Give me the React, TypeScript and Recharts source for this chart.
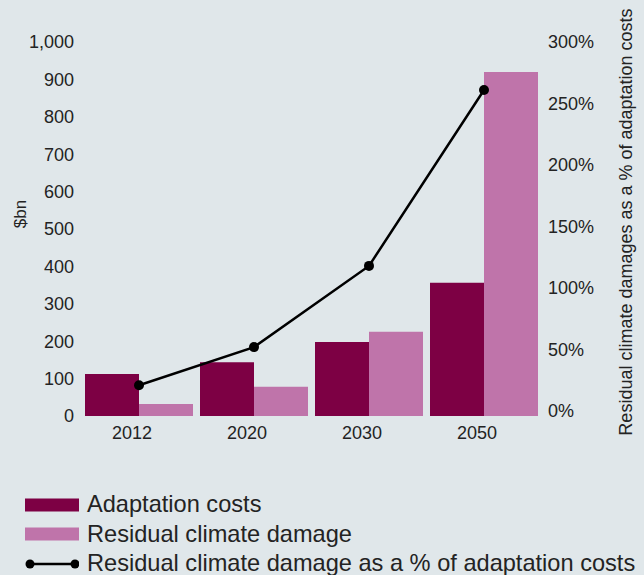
import React from "react";
import { Bar, ComposedChart, Legend, Line, XAxis, YAxis } from "recharts";

const years = ["2012", "2020", "2030", "2050"];
const adaptationCosts = [112, 144, 198, 356];
const residualDamage = [32, 78, 225, 920];
const residualPct = [21, 52, 118, 261];
const dollarTicks = [0, 100, 200, 300, 400, 500, 600, 700, 800, 900, 1000];
const pctTicks = [0, 50, 100, 150, 200, 250, 300];

const data = years.map((year, i) => ({
  year,
  adaptation: adaptationCosts[i],
  residual: residualDamage[i],
  pct: residualPct[i]
}));

const FONT = '"Liberation Sans", Arial, Helvetica, sans-serif';
const TEXT = "#232323";
const DARK = "#7d0044";
const LIGHT = "#bf74aa";

const tickStyle = { fontSize: 18, fill: TEXT, fontFamily: FONT };

function LegendRows({ payload }: any) {
  const items = payload || [];
  return (
    <div style={{ fontFamily: FONT, fontSize: 23.6, color: TEXT, height: 88, boxSizing: "border-box", paddingTop: 3 }}>
      {items.map((item: any) => (
        <div key={item.value} style={{ display: "flex", alignItems: "center", height: 29.5, lineHeight: "29.5px" }}>
          <svg width={54} height={14} style={{ marginRight: 8, flex: "none" }}>
            {item.type === "line" ? (
              <g>
                <line x1={5} y1={7} x2={50} y2={7} stroke="#000" strokeWidth={2.5} />
                <circle cx={5} cy={7} r={4.5} fill="#000" />
                <circle cx={50} cy={7} r={4.5} fill="#000" />
              </g>
            ) : (
              <rect x={0} y={0.5} width={54} height={13} fill={item.color} />
            )}
          </svg>
          <span style={{ whiteSpace: "nowrap" }}>{item.value}</span>
        </div>
      ))}
    </div>
  );
}

export default function App() {
  return (
    <div style={{ position: "absolute", left: 0, top: 0, width: 644, height: 575, background: "#e0e7ea" }}>
      <ComposedChart
        width={644}
        height={575}
        data={data}
        margin={{ top: 42, right: 0, bottom: 0, left: 0 }}
        barCategoryGap={3.5}
        barGap={0}
      >
        <XAxis
          dataKey="year"
          height={71}
          axisLine={false}
          tickLine={false}
          tickSize={0}
          tickMargin={10}
          tick={{ ...tickStyle, dx: -7 }}
        />
        <YAxis
          yAxisId="bn"
          width={81.5}
          domain={[0, 1000]}
          ticks={dollarTicks}
          axisLine={false}
          tickLine={false}
          tickSize={0}
          tickMargin={7.5}
          tick={tickStyle}
          tickFormatter={(v: number) => v.toLocaleString("en-US")}
          label={{
            content: (props: any) => {
              const vb = props.viewBox;
              const cx = vb.x + 20;
              const cy = vb.y + vb.height / 2 - 15;
              return (
                <text x={cx} y={cy} transform={`rotate(-90 ${cx} ${cy})`} textAnchor="middle" dominantBaseline="central" fontSize={17} fill={TEXT} fontFamily={FONT}>
                  $bn
                </text>
              );
            }
          }}
        />
        <YAxis
          yAxisId="pct"
          orientation="right"
          width={102.5}
          domain={[-4, 300]}
          ticks={pctTicks}
          axisLine={false}
          tickLine={false}
          tickSize={0}
          tickMargin={6.5}
          tick={tickStyle}
          tickFormatter={(v: number) => `${v}%`}
          label={{
            content: (props: any) => {
              const vb = props.viewBox;
              const cx = vb.x + 84.5;
              const cy = vb.y + vb.height / 2 - 7;
              return (
                <text x={cx} y={cy} transform={`rotate(-90 ${cx} ${cy})`} textAnchor="middle" dominantBaseline="central" fontSize={18} fill={TEXT} fontFamily={FONT}>
                  Residual climate damages as a % of adaptation costs
                </text>
              );
            }
          }}
        />
        <Legend
          verticalAlign="bottom"
          align="left"
          content={LegendRows}
          wrapperStyle={{ left: 25, bottom: 0, width: 619 }}
        />
        <Bar yAxisId="bn" dataKey="adaptation" name="Adaptation costs" fill={DARK} isAnimationActive={false} />
        <Bar yAxisId="bn" dataKey="residual" name="Residual climate damage" fill={LIGHT} isAnimationActive={false} />
        <Line
          yAxisId="pct"
          dataKey="pct"
          name="Residual climate damage as a % of adaptation costs"
          type="linear"
          stroke="#000"
          strokeWidth={2.5}
          dot={{ r: 5, fill: "#000", stroke: "#000", strokeWidth: 0 }}
          isAnimationActive={false}
        />
      </ComposedChart>
    </div>
  );
}
